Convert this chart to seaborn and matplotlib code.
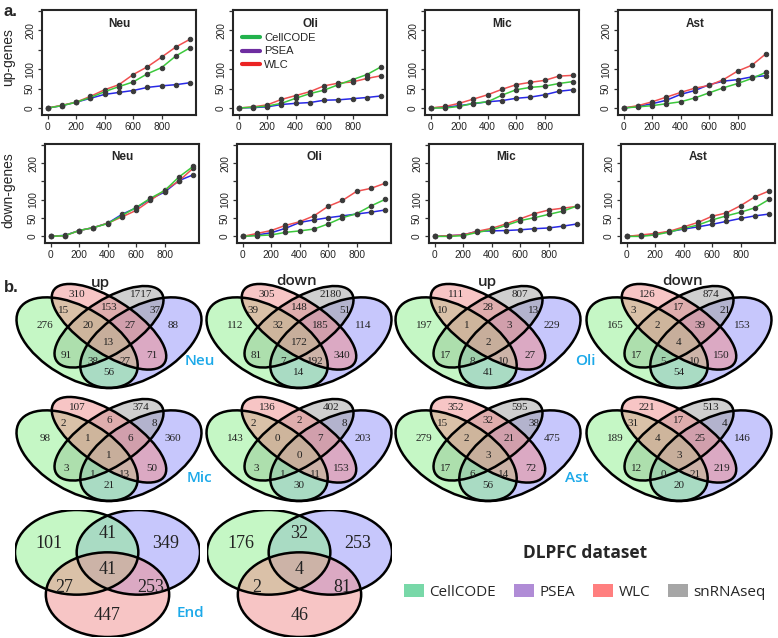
import matplotlib
matplotlib.use("Agg")
import matplotlib.pyplot as plt
import seaborn as sns
from matplotlib.patches import Ellipse, Patch
from matplotlib.lines import Line2D

W, H = 778, 638

# ---- panel a: number of detected genes vs top-N ----
x_steps = [0, 100, 200, 300, 400, 500, 600, 700, 800, 900, 1000]
cell_types = ["Neu", "Oli", "Mic", "Ast"]

# one inner list per cell type (Neu, Oli, Mic, Ast)
up_cellcode = [[0, 6, 15, 27, 42, 55, 67, 88, 104, 134, 155],
               [0, 2, 5, 12, 25, 37, 46, 60, 73, 86, 106],
               [0, 0, 4, 12, 16, 33, 47, 53, 56, 63, 68],
               [0, 3, 6, 11, 16, 26, 39, 52, 63, 76, 92]]
up_psea = [[0, 6, 15, 25, 35, 40, 45, 53, 57, 60, 65],
           [0, 1, 3, 9, 12, 14, 20, 21, 24, 27, 31],
           [0, 2, 6, 11, 16, 19, 25, 28, 34, 43, 47],
           [0, 4, 11, 20, 35, 45, 60, 69, 73, 80, 83]]
up_wlc = [[0, 7, 15, 30, 47, 60, 86, 106, 131, 157, 177],
          [0, 3, 8, 22, 32, 42, 57, 64, 67, 76, 83],
          [0, 4, 12, 23, 34, 48, 60, 66, 71, 82, 84],
          [0, 6, 16, 28, 40, 51, 58, 73, 95, 110, 140]]

down_cellcode = [[0, 2, 16, 24, 35, 57, 79, 104, 125, 162, 191],
                 [0, 2, 4, 11, 15, 20, 34, 51, 62, 83, 101],
                 [0, 0, 2, 11, 18, 30, 43, 51, 60, 69, 83],
                 [0, 0, 4, 12, 22, 31, 45, 56, 66, 78, 101]]
down_psea = [[0, 3, 16, 24, 36, 60, 78, 102, 121, 152, 168],
             [0, 4, 10, 22, 38, 45, 51, 56, 61, 66, 72],
             [0, 2, 4, 14, 15, 16, 18, 21, 23, 28, 34],
             [0, 2, 6, 13, 20, 26, 33, 41, 49, 56, 61]]
down_wlc = [[0, 2, 16, 24, 36, 53, 71, 98, 126, 151, 186],
            [0, 8, 16, 30, 40, 56, 82, 98, 123, 131, 145],
            [0, 2, 4, 14, 22, 34, 48, 62, 72, 77, 82],
            [0, 4, 8, 14, 26, 38, 55, 64, 84, 108, 124]]

y_ticks = [0, 50, 100, 150, 200, 250]
y_ticklabels = ["0", "50", "100", "", "200", ""]
x_ticks = [0, 200, 400, 600, 800]

# ---- panel b: venn counts ----
# C = CellCODE, W = WLC, S = snRNAseq, P = PSEA
regions4 = ["C", "W", "S", "P", "CW", "WS", "SP", "CWS", "WSP", "CWSP",
            "CS", "WP", "CSP", "CWP", "CP"]
neu_up = [276, 310, 1717, 88, 15, 153, 37, 20, 27, 13, 91, 71, 38, 27, 56]
neu_down = [112, 305, 2180, 114, 39, 148, 51, 32, 185, 172, 81, 340, 7, 192, 14]
oli_up = [197, 111, 807, 229, 10, 28, 13, 1, 3, 2, 17, 27, 8, 10, 41]
oli_down = [165, 126, 874, 153, 3, 17, 21, 2, 39, 4, 17, 150, 5, 10, 54]
mic_up = [98, 107, 374, 360, 2, 6, 8, 1, 6, 1, 3, 50, 1, 13, 21]
mic_down = [143, 136, 402, 203, 2, 2, 8, 0, 7, 0, 3, 153, 1, 11, 30]
ast_up = [279, 352, 595, 475, 15, 32, 38, 2, 21, 3, 17, 72, 6, 14, 56]
ast_down = [189, 221, 513, 146, 31, 17, 4, 4, 25, 3, 12, 219, 0, 21, 20]

regions3 = ["C", "CP", "P", "CPW", "CW", "PW", "W"]
end_up = [101, 41, 349, 41, 27, 253, 447]
end_down = [176, 32, 253, 4, 2, 81, 46]

legend_labels = ["CellCODE", "PSEA", "WLC", "snRNAseq"]
legend_colors = ["#78D8A8", "#B08CD6", "#FF7F7F", "#A6A6A6"]

sns.set_style("ticks")
plt.rcParams["font.family"] = ["Liberation Sans", "DejaVu Sans"]

fig = plt.figure(figsize=(W / 100, H / 100), dpi=100)


def px_box(left, top, width, height):
    return [left / W, 1 - (top + height) / H, width / W, height / H]


def fx(px):
    return px / W


def fy(py):
    return 1 - py / H


line_colors = {"CellCODE": "#3CC83C", "PSEA": "#2828E6", "WLC": "#F05050"}
rows = [("up-genes", [up_psea, up_wlc, up_cellcode], [42, 233, 425, 618], 10, 105, 57),
        ("down-genes", [down_psea, down_wlc, down_cellcode], [45, 237, 429, 621], 144, 99, 190)]

for ylab, series, lefts, top, height, ylab_y in rows:
    for i, name in enumerate(cell_types):
        ax = fig.add_axes(px_box(lefts[i], top, 154, height))
        for method, vals in zip(["PSEA", "WLC", "CellCODE"], series):
            sns.lineplot(x=x_steps, y=vals[i], ax=ax, color=line_colors[method],
                         linewidth=1.1, marker="o", markersize=3.2,
                         markerfacecolor="#3a3a3a", markeredgecolor="#3a3a3a",
                         estimator=None)
        ax.set_xlim(-40, 1041)
        ax.set_ylim(-18, 252)
        ax.set_xticks(x_ticks)
        ax.set_yticks(y_ticks)
        ax.set_yticklabels(y_ticklabels, rotation=90, va="center")
        ax.tick_params(labelsize=7.3, length=3, width=0.9, pad=2, color="#333333")
        for sp in ax.spines.values():
            sp.set_visible(True)
            sp.set_linewidth(1.5)
        ax.text(0.5, 0.87, name, transform=ax.transAxes, ha="center", va="center",
                fontsize=8.5, fontweight="bold")
        if ylab == "up-genes" and name == "Oli":
            handles = [Line2D([], [], color=c, lw=3) for c in ["#22B24C", "#6E2DA0", "#EB2323"]]
            ax.legend(handles, ["CellCODE", "PSEA", "WLC"], loc="upper left",
                      bbox_to_anchor=(0.06, 0.78), frameon=False, fontsize=8,
                      handlelength=1.6, handletextpad=0.35, labelspacing=0.3,
                      borderpad=0, borderaxespad=0)
    fig.text(fx(8), fy(ylab_y), ylab, rotation=90, ha="center", va="center", fontsize=10)

fig.text(fx(4), fy(12), "a.", fontsize=12, fontweight="bold", ha="left", va="center")
fig.text(fx(4), fy(288), "b.", fontsize=12, fontweight="bold", ha="left", va="center")

# 4-set venn layout (unit square, stretched by the axes); drawing order matters for the blend
# (center, a, b, angle, colour)
ellipses4 = [((0.65, 0.47), 0.35, 0.20, 45, "#9191FA"),    # PSEA
             ((0.50, 0.57), 0.33, 0.15, 45, "#A0A0A0"),    # snRNAseq
             ((0.35, 0.47), 0.35, 0.20, 135, "#8CF08C"),   # CellCODE
             ((0.50, 0.57), 0.35, 0.15, 135, "#F08C8C")]   # WLC
pos4 = {"C": (0.20, 0.58), "P": (0.80, 0.58), "W": (0.35, 0.77), "S": (0.65, 0.77),
        "CW": (0.285, 0.67), "SP": (0.715, 0.67), "WS": (0.5, 0.69),
        "CWS": (0.40, 0.58), "WSP": (0.60, 0.58), "CWSP": (0.5, 0.47),
        "CS": (0.30, 0.39), "WP": (0.70, 0.39), "CSP": (0.425, 0.35),
        "CWP": (0.575, 0.35), "CP": (0.5, 0.28)}


def venn4(left, top, counts):
    ax = fig.add_axes(px_box(left, top, 212.6, 159))
    ax.set_xlim(0, 1)
    ax.set_ylim(0, 1)
    ax.axis("off")
    for center, a, b, ang, col in ellipses4:
        ax.add_patch(Ellipse(center, 2 * a, 2 * b, angle=ang, facecolor=col,
                             alpha=0.5, edgecolor="none"))
    for center, a, b, ang, col in ellipses4:
        ax.add_patch(Ellipse(center, 2 * a, 2 * b, angle=ang, facecolor="none",
                             edgecolor="black", linewidth=1.8))
    for key, val in zip(regions4, counts):
        ax.text(*pos4[key], str(val), ha="center", va="center", fontsize=8,
                family="Liberation Serif", color="#222222")


venn_lefts = [2.7, 192.7, 381.7, 572.7]
venn_tops = [258.4, 371.4]
venn4(venn_lefts[0], venn_tops[0], neu_up)
venn4(venn_lefts[1], venn_tops[0], neu_down)
venn4(venn_lefts[2], venn_tops[0], oli_up)
venn4(venn_lefts[3], venn_tops[0], oli_down)
venn4(venn_lefts[0], venn_tops[1], mic_up)
venn4(venn_lefts[1], venn_tops[1], mic_down)
venn4(venn_lefts[2], venn_tops[1], ast_up)
venn4(venn_lefts[3], venn_tops[1], ast_down)

for x, y, t in [(100, 283, "up"), (297, 281, "down"), (487, 282, "up"), (683, 281, "down")]:
    fig.text(fx(x), fy(y), t, ha="center", va="center", fontsize=11,
             family=["Open Sans", "DejaVu Sans"], fontweight="semibold")

circles3 = [((1, 0), "#9191FA"), ((0, 0), "#8CF08C"), ((0.5, -1), "#F08C8C")]
pos3 = {"C": (-0.45, 0.2), "CP": (0.5, 0.45), "P": (1.45, 0.2), "CPW": (0.5, -0.4),
        "CW": (-0.2, -0.83), "PW": (1.2, -0.83), "W": (0.5, -1.5)}


def venn3(left, top, counts):
    ax = fig.add_axes(px_box(left, top, 185, 127))
    ax.set_xlim(-1, 2)
    ax.set_ylim(-2, 1)
    ax.axis("off")
    for center, col in circles3:
        ax.add_patch(Ellipse(center, 2, 2, facecolor=col, alpha=0.5, edgecolor="none"))
    for center, col in circles3:
        ax.add_patch(Ellipse(center, 2, 2, facecolor="none", edgecolor="black", linewidth=1.8))
    for key, val in zip(regions3, counts):
        ax.text(*pos3[key], str(val), ha="center", va="center", fontsize=13,
                family="Liberation Serif", color="#222222")


venn3(15, 510, end_up)
venn3(207, 510, end_down)

cell_label_pos = [(200, 361, "Neu"), (585, 361, "Oli"), (199, 478, "Mic"),
                  (577, 478, "Ast"), (190, 613, "End")]
for x, y, t in cell_label_pos:
    fig.text(fx(x), fy(y), t, ha="center", va="center", fontsize=11,
             color="#1CA9E9", family=["Open Sans", "DejaVu Sans"], fontweight="semibold")

fig.text(fx(585), fy(553), "DLPFC dataset", ha="center", va="center", fontsize=12.5,
         fontweight="bold", family=["Open Sans", "DejaVu Sans"])
patches = [Patch(facecolor=c, edgecolor="none") for c in legend_colors]
fig.legend(patches, legend_labels, loc="center", bbox_to_anchor=(fx(585), fy(592)),
           ncol=4, frameon=False, handlelength=1.3, handleheight=0.9,
           handletextpad=0.35, columnspacing=1.2,
           prop={"family": ["Open Sans", "DejaVu Sans"], "size": 11})

fig.savefig("out.png", dpi=100)
